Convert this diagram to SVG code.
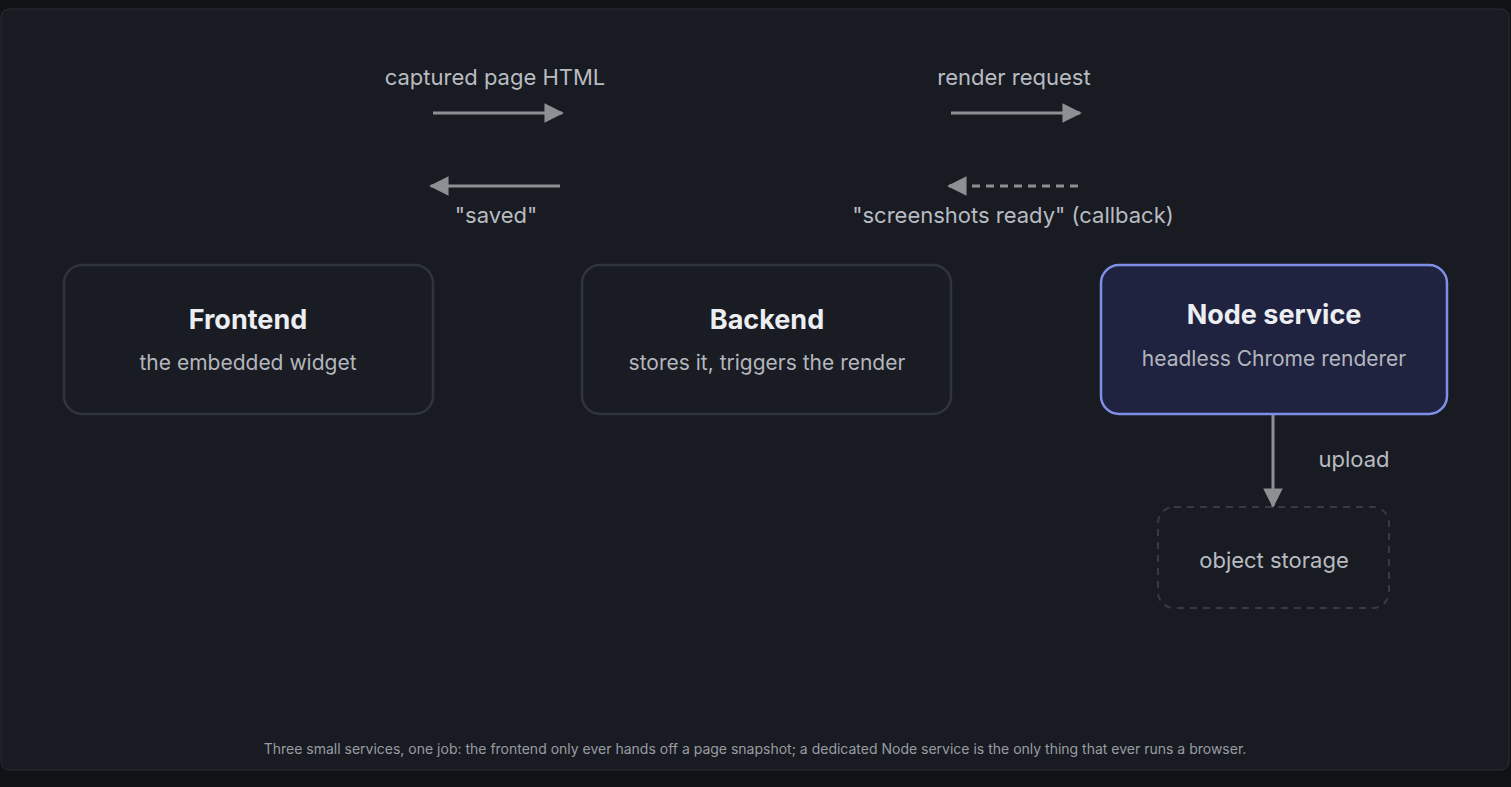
<svg xmlns="http://www.w3.org/2000/svg" width="1511" height="787" viewBox="0 0 1511 787">
<style>
.t{font-family:Inter,"Noto Sans",sans-serif;}
.lbl{font-size:22px;fill:#b9bbc2;text-anchor:middle;}
.ttl{font-size:27px;font-weight:700;fill:#eceef2;text-anchor:middle;}
.sub{font-size:21px;fill:#b4b6bd;text-anchor:middle;}
.box{fill:#191c23;stroke:#30343d;stroke-width:2.5;}
.ln{stroke:#8e8f93;stroke-width:3;fill:none;}
</style>
<defs>
<marker id="ah" viewBox="0 0 10 10" refX="9" refY="5" markerWidth="6.5" markerHeight="6.5" orient="auto-start-reverse" markerUnits="strokeWidth"><path d="M0,0L10,5L0,10z" fill="#8e8f93"/></marker>
</defs>
<rect x="0" y="0" width="1511" height="787" fill="#111215"/>
<rect x="1" y="9" width="1508" height="761" rx="8" fill="#181b21" stroke="#2a2d34"/>
<g id="connectors">
<line class="ln" x1="433" y1="113" x2="562" y2="113" marker-end="url(#ah)"/>
<text class="t lbl" x="495" y="85">captured page HTML</text>
<line class="ln" x1="951" y1="113" x2="1080" y2="113" marker-end="url(#ah)"/>
<text class="t lbl" x="1014" y="85">render request</text>
<line class="ln" x1="560" y1="186" x2="431" y2="186" marker-end="url(#ah)"/>
<text class="t lbl" x="496" y="223">"saved"</text>
<line class="ln" x1="1078" y1="186" x2="949" y2="186" stroke-dasharray="8,6" marker-end="url(#ah)"/>
<text class="t lbl" x="1013" y="223">"screenshots ready" (callback)</text>
<line class="ln" x1="1273" y1="415" x2="1273" y2="506" marker-end="url(#ah)"/>
<text class="t lbl" x="1354" y="467">upload</text>
</g>
<g id="frontend">
<rect class="box" x="64" y="265" width="369" height="149" rx="18"/>
<text class="t ttl" x="248" y="329">Frontend</text>
<text class="t sub" x="248" y="370">the embedded widget</text>
</g>
<g id="backend">
<rect class="box" x="582" y="265" width="369" height="149" rx="18"/>
<text class="t ttl" x="767" y="329">Backend</text>
<text class="t sub" x="767" y="370">stores it, triggers the render</text>
</g>
<g id="node-service">
<rect x="1101" y="265" width="346" height="149" rx="18" fill="#1f2340" stroke="#7f8ee6" stroke-width="2.5"/>
<text class="t ttl" x="1274" y="324">Node service</text>
<text class="t sub" x="1274" y="366">headless Chrome renderer</text>
</g>
<g id="object-storage">
<rect x="1158" y="507" width="231" height="101" rx="16" fill="none" stroke="#363a43" stroke-width="2" stroke-dasharray="7,6"/>
<text class="t lbl" x="1274" y="568">object storage</text>
</g>
<text class="t" x="755" y="754" font-size="14" fill="#9a9ca3" text-anchor="middle">Three small services, one job: the frontend only ever hands off a page snapshot; a dedicated Node service is the only thing that ever runs a browser.</text>
</svg>
